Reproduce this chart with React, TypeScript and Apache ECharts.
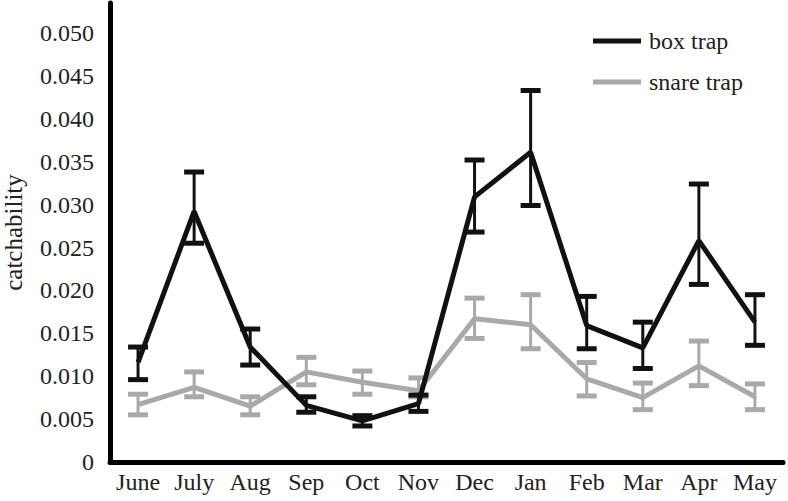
import React, { useEffect, useRef } from "react";
import * as echarts from "echarts";

const months = ["June", "July", "Aug", "Sep", "Oct", "Nov", "Dec", "Jan", "Feb", "Mar", "Apr", "May"];
const boxMean = [0.0116, 0.0292, 0.0134, 0.0066, 0.0048, 0.0068, 0.0309, 0.0361, 0.0159, 0.0133, 0.0258, 0.0163];
const boxLow = [0.0096, 0.0255, 0.0113, 0.0058, 0.0042, 0.0059, 0.0268, 0.0299, 0.0132, 0.0109, 0.0207, 0.0136];
const boxHigh = [0.0134, 0.0338, 0.0155, 0.0076, 0.0054, 0.0078, 0.0352, 0.0433, 0.0193, 0.0163, 0.0324, 0.0195];
const snareMean = [0.0067, 0.0087, 0.0065, 0.0105, 0.0093, 0.0083, 0.0167, 0.016, 0.0097, 0.0075, 0.0112, 0.0076];
const snareLow = [0.0055, 0.0076, 0.0055, 0.009, 0.0079, 0.0076, 0.0144, 0.0132, 0.0077, 0.0061, 0.0089, 0.0061];
const snareHigh = [0.0079, 0.0105, 0.0076, 0.0122, 0.0106, 0.0098, 0.0191, 0.0195, 0.0116, 0.0092, 0.0141, 0.0091];
const yTicks = ["0", "0.005", "0.010", "0.015", "0.020", "0.025", "0.030", "0.035", "0.040", "0.045", "0.050"];

const BLACK = "#111111";
const GRAY = "#a9a9a9";
const FONT = "'Liberation Serif', 'DejaVu Serif', 'Times New Roman', serif";

function errSeries(name: string, low: number[], high: number[], color: string, z: number) {
  return {
    type: "custom",
    name: name + "-err",
    z,
    silent: true,
    data: low.map((l, i) => [i, l, high[i]]),
    encode: { x: 0, y: [1, 2] },
    renderItem: (params: any, api: any) => {
      const x = api.value(0);
      const lo = api.coord([x, api.value(1)]);
      const hi = api.coord([x, api.value(2)]);
      const hw = 10;
      return {
        type: "group",
        children: [
          { type: "line", shape: { x1: lo[0], y1: lo[1], x2: hi[0], y2: hi[1] }, style: { stroke: color, lineWidth: 3 } },
          { type: "line", shape: { x1: lo[0] - hw, y1: lo[1], x2: lo[0] + hw, y2: lo[1] }, style: { stroke: color, lineWidth: 5 } },
          { type: "line", shape: { x1: hi[0] - hw, y1: hi[1], x2: hi[0] + hw, y2: hi[1] }, style: { stroke: color, lineWidth: 5 } },
        ],
      };
    },
  };
}

export default function App() {
  const ref = useRef<HTMLDivElement>(null);
  useEffect(() => {
    const chart = echarts.init(ref.current!, null, { renderer: "svg" });
    chart.setOption({
      animation: false,
      textStyle: { fontFamily: FONT },
      grid: { left: 110, right: 5, top: 3, bottom: 39, outerBoundsMode: "none", containLabel: false },
      legend: {
        orient: "vertical",
        left: 588,
        top: 24,
        itemWidth: 48,
        itemHeight: 5,
        itemGap: 17,
        textStyle: { fontFamily: FONT, fontSize: 24, color: "#222", padding: [0, 0, 0, 3] },
        data: [
          { name: "box trap", icon: "rect" },
          { name: "snare trap", icon: "rect" },
        ],
      },
      xAxis: {
        type: "category",
        data: months,
        boundaryGap: true,
        axisLine: { lineStyle: { color: "#000", width: 5 } },
        axisTick: { show: false },
        axisLabel: { fontFamily: FONT, fontSize: 24, color: "#222", margin: 8, interval: 0 },
      },
      yAxis: {
        type: "value",
        min: 0,
        max: 0.0535,
        interval: 0.005,
        name: "catchability",
        nameLocation: "middle",
        nameGap: 84,
        nameRotate: 90,
        nameTextStyle: { fontFamily: FONT, fontSize: 25, color: "#222" },
        axisLine: { show: true, lineStyle: { color: "#000", width: 5 } },
        axisTick: { show: false },
        splitLine: { show: false },
        axisLabel: {
          fontFamily: FONT,
          fontSize: 24,
          color: "#222",
          margin: 16,
          showMaxLabel: false,
          formatter: (v: number) => {
            const idx = Math.round(v / 0.005);
            return Math.abs(v - idx * 0.005) < 1e-9 ? yTicks[idx] ?? "" : "";
          },
        },
      },
      series: [
        errSeries("snare trap", snareLow, snareHigh, GRAY, 1),
        {
          type: "line",
          name: "snare trap",
          data: snareMean,
          symbol: "none",
          z: 2,
          lineStyle: { color: GRAY, width: 5 },
          itemStyle: { color: GRAY },
        },
        errSeries("box trap", boxLow, boxHigh, BLACK, 3),
        {
          type: "line",
          name: "box trap",
          data: boxMean,
          symbol: "none",
          z: 4,
          lineStyle: { color: BLACK, width: 5 },
          itemStyle: { color: BLACK },
        },
      ],
    });
    return () => chart.dispose();
  }, []);
  return <div ref={ref} style={{ width: 788, height: 501, position: "absolute", left: 0, top: 0 }} />;
}
